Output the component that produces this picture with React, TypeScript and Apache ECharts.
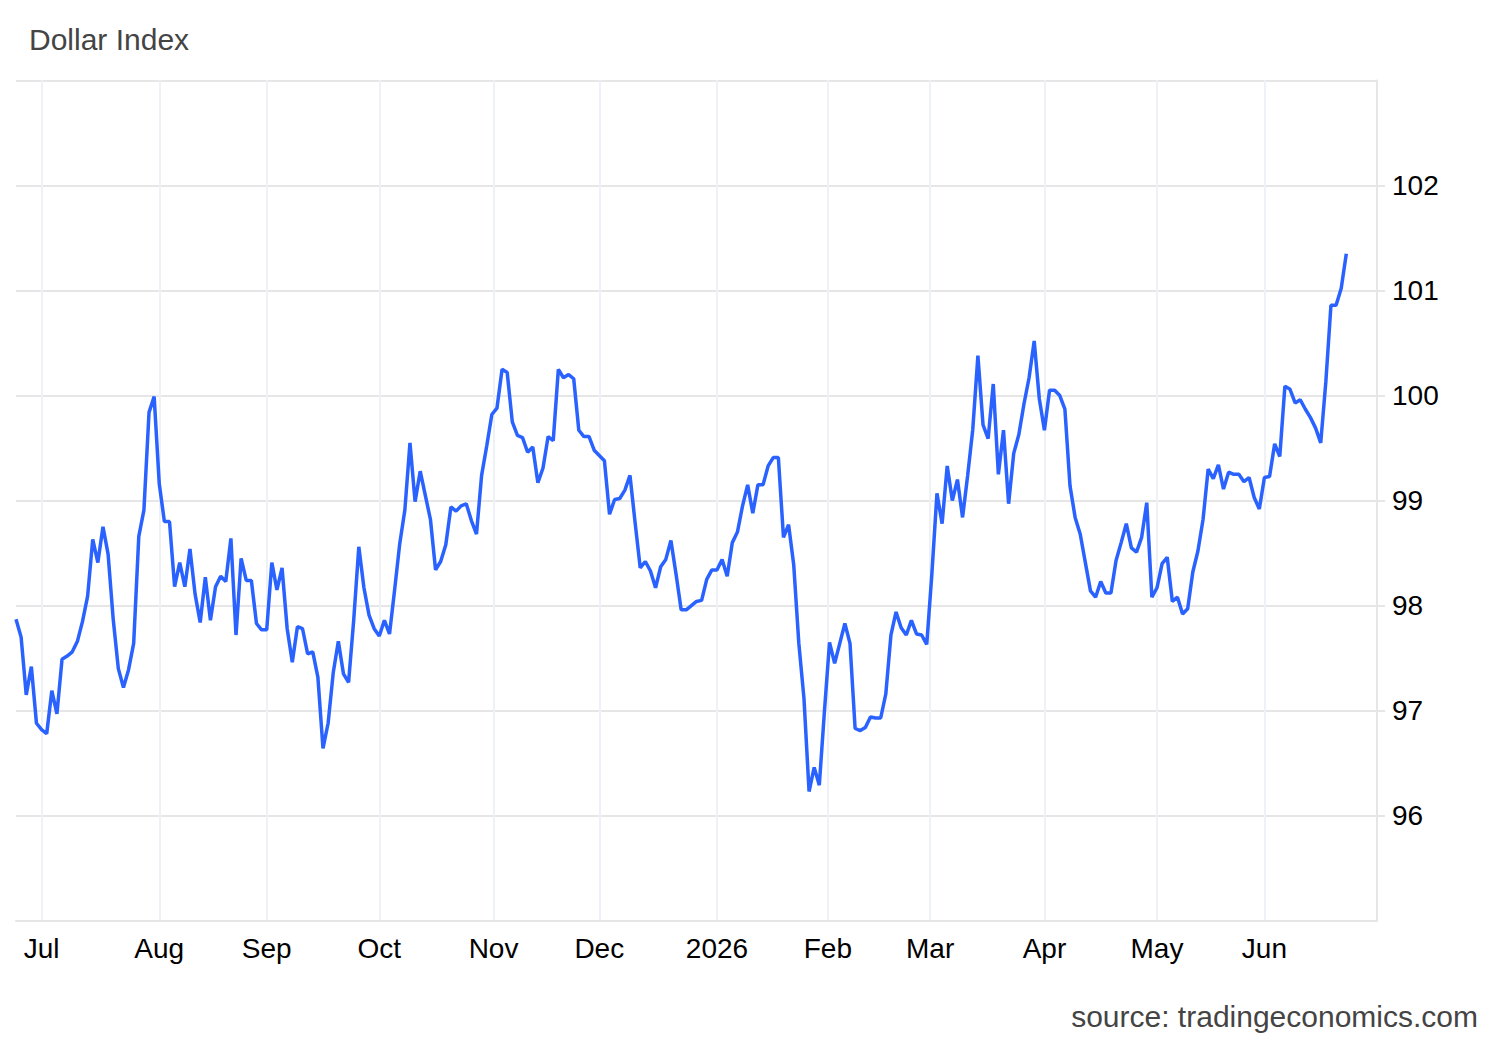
import React, { useEffect, useRef } from "react";
import * as echarts from "echarts";

// Daily (weekday) closes of the Dollar Index, grouped by month
const jun2025 = [97.87, 97.7, 97.15, 97.42, 96.88];
const jul2025 = [96.82, 96.78, 97.19, 96.97, 97.49, 97.52, 97.56, 97.66, 97.85, 98.09, 98.63, 98.41, 98.75, 98.49, 97.87, 97.4, 97.22, 97.39, 97.64, 98.66, 98.91, 99.84, 99.99];
const aug2025 = [99.16, 98.8, 98.8, 98.18, 98.41, 98.18, 98.54, 98.11, 97.84, 98.27, 97.86, 98.18, 98.28, 98.23, 98.64, 97.72, 98.45, 98.24, 98.24, 97.83, 97.77];
const sep2025 = [97.77, 98.41, 98.15, 98.36, 97.78, 97.46, 97.8, 97.78, 97.54, 97.56, 97.32, 96.64, 96.88, 97.36, 97.66, 97.35, 97.27, 97.86, 98.56, 98.17, 97.91, 97.78];
const oct2025 = [97.71, 97.86, 97.73, 98.15, 98.59, 98.91, 99.55, 98.99, 99.28, 99.05, 98.82, 98.34, 98.42, 98.58, 98.94, 98.9, 98.95, 98.97, 98.81, 98.68, 99.24, 99.52, 99.82];
const nov2025 = [99.88, 100.25, 100.22, 99.75, 99.62, 99.6, 99.46, 99.51, 99.17, 99.31, 99.61, 99.57, 100.25, 100.17, 100.2, 100.16, 99.67, 99.61, 99.61, 99.48];
const dec2025 = [99.43, 99.38, 98.87, 99.01, 99.02, 99.1, 99.24, 98.79, 98.36, 98.42, 98.33, 98.17, 98.37, 98.44, 98.62, 98.3, 97.96, 97.96, 98.0, 98.04, 98.05, 98.25, 98.34];
const jan2026 = [98.34, 98.44, 98.28, 98.6, 98.7, 98.95, 99.15, 98.88, 99.15, 99.15, 99.33, 99.41, 99.41, 98.65, 98.77, 98.39, 97.64, 97.12, 96.23, 96.46, 96.29, 96.99];
const feb2026 = [97.65, 97.45, 97.64, 97.83, 97.64, 96.83, 96.81, 96.84, 96.94, 96.93, 96.93, 97.16, 97.72, 97.94, 97.79, 97.72, 97.86, 97.73, 97.72, 97.63];
const mar2026 = [98.3, 99.07, 98.78, 99.33, 99.0, 99.2, 98.84, 99.24, 99.68, 100.38, 99.72, 99.59, 100.11, 99.25, 99.67, 98.97, 99.45, 99.63, 99.92, 100.17, 100.52, 99.97];
const apr2026 = [99.67, 100.05, 100.05, 100.0, 99.87, 99.14, 98.84, 98.68, 98.41, 98.14, 98.08, 98.23, 98.12, 98.12, 98.43, 98.6, 98.78, 98.55, 98.51, 98.65, 98.98, 98.08];
const may2026 = [98.17, 98.4, 98.46, 98.04, 98.08, 97.92, 97.97, 98.32, 98.52, 98.82, 99.3, 99.21, 99.34, 99.11, 99.27, 99.25, 99.25, 99.18, 99.22, 99.03, 98.92];
const jun2026 = [99.22, 99.23, 99.54, 99.42, 100.09, 100.06, 99.93, 99.96, 99.87, 99.79, 99.69, 99.55, 100.13, 100.86, 100.86, 101.02, 101.35];

// Axis span (weekdays) and month tick labels
const axisStart = "2025-06-24";
const axisEnd = "2026-07-01";
const monthStarts = ["2025-07-01", "2025-08-01", "2025-09-01", "2025-10-01", "2025-11-01", "2025-12-01", "2026-01-01", "2026-02-01", "2026-03-01", "2026-04-01", "2026-05-01", "2026-06-01"];
const monthLabels = ["Jul", "Aug", "Sep", "Oct", "Nov", "Dec", "2026", "Feb", "Mar", "Apr", "May", "Jun"];
const yTicks = { min: 95, max: 103, step: 1 };

const values = [
  ...jun2025, ...jul2025, ...aug2025, ...sep2025, ...oct2025, ...nov2025,
  ...dec2025, ...jan2026, ...feb2026, ...mar2026, ...apr2026, ...may2026, ...jun2026,
];

const DAY = 86400000;
function weekdays(a: string, b: string): number[] {
  const out: number[] = [];
  for (let t = Date.parse(a + "T00:00:00Z"); t <= Date.parse(b + "T00:00:00Z"); t += DAY) {
    const d = new Date(t).getUTCDay();
    if (d !== 0 && d !== 6) out.push(t);
  }
  return out;
}
const dates = weekdays(axisStart, axisEnd);

function ordinalPos(s: string): number {
  const t = Date.parse(s + "T00:00:00Z");
  for (let j = 0; j < dates.length; j++) {
    if (dates[j] === t) return j;
    if (dates[j] > t) return j - 1 + (t - dates[j - 1]) / (dates[j] - dates[j - 1]);
  }
  return dates.length - 1;
}
const tickPos = monthStarts.map(ordinalPos);

const FONT = "'Liberation Sans', Arial, Helvetica, sans-serif";

export default function App() {
  const ref = useRef<HTMLDivElement>(null);
  useEffect(() => {
    document.body.style.margin = "0";
    if (!ref.current) return;
    const chart = echarts.init(ref.current, undefined, { renderer: "svg" });
    const data = values.map((v, i) => [i, v]);
    chart.setOption({
      animation: false,
      backgroundColor: "#ffffff",
      grid: { left: 16, right: 123, top: 80.5, bottom: 119.3, containLabel: false },
      graphic: [
        {
          type: "text",
          left: 29,
          top: 24,
          style: { text: "Dollar Index", font: `30px ${FONT}`, fill: "#444444" },
        },
        {
          type: "text",
          right: 22,
          top: 1001,
          style: { text: "source: tradingeconomics.com", font: `30px ${FONT}`, fill: "#444444" },
        },
      ],
      xAxis: {
        type: "value",
        min: 0,
        max: dates.length - 1,
        axisLine: { show: true, onZero: false, lineStyle: { color: "#e6e6e6", width: 2 } },
        axisTick: { show: false, customValues: tickPos },
        axisLabel: {
          customValues: tickPos,
          formatter: (v: number) => {
            const k = tickPos.findIndex((p) => Math.abs(p - v) < 1e-6);
            return k >= 0 ? monthLabels[k] : "";
          },
          color: "#000000",
          fontSize: 28,
          fontFamily: FONT,
          margin: 14,
        },
        splitLine: { show: true, lineStyle: { color: "#eef1f6", width: 2 } },
      },
      yAxis: {
        type: "value",
        position: "right",
        min: yTicks.min,
        max: yTicks.max,
        interval: yTicks.step,
        axisLine: { show: true, onZero: false, lineStyle: { color: "#e6e6e6", width: 2 } },
        axisTick: { show: true, length: 8, lineStyle: { color: "#e6e6e6", width: 2 } },
        axisLabel: {
          showMinLabel: false,
          showMaxLabel: false,
          color: "#000000",
          fontSize: 28,
          fontFamily: FONT,
          margin: 15,
          padding: [0, 0, 3, 0],
        },
        splitLine: { show: true, lineStyle: { color: "#e6e6e6", width: 2 } },
      },
      series: [
        {
          type: "line",
          data,
          showSymbol: false,
          symbol: "none",
          lineStyle: { color: "#2962ff", width: 3.5 },
          z: 3,
        },
      ],
    });
    return () => chart.dispose();
  }, []);
  return (
    <div
      ref={ref}
      style={{ position: "absolute", left: 0, top: 0, width: 1500, height: 1040, background: "#fff" }}
    />
  );
}
